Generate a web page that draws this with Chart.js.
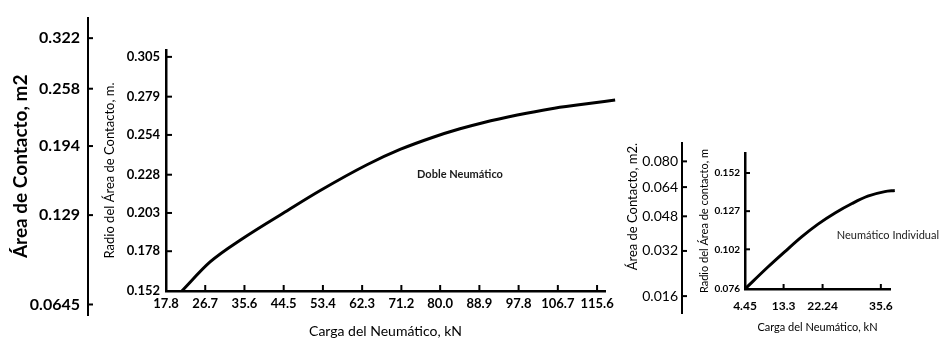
<!DOCTYPE html>
<html>
<head>
<meta charset="utf-8">
<script src="https://cdn.jsdelivr.net/npm/chart.js@4"></script>
<style>
  body { margin: 0; background: #fff; }
  #wrap { position: relative; width: 942px; height: 340px; overflow: hidden; }
  #wrap canvas { position: absolute; top: 0; }
</style>
</head>
<body>
<div id="wrap">
  <canvas id="dualArea" width="100" height="340" style="left:0px"></canvas>
  <canvas id="dual" width="540" height="340" style="left:90px"></canvas>
  <canvas id="singleArea" width="80" height="340" style="left:615px"></canvas>
  <canvas id="single" width="247" height="340" style="left:695px"></canvas>
</div>
<script>
// doble neumático
var loadDual = [21.4, 27.8, 35.3, 45.3, 52.7, 63.4, 70.9, 78.4, 84.5, 89.7, 97.5, 104.9, 112.4, 119.7];
var radiusDual = [0.152, 0.171, 0.1865, 0.2045, 0.2175, 0.2345, 0.2445, 0.2525, 0.258, 0.262, 0.267, 0.271, 0.274, 0.2768];
var loadTicksDual = [17.8, 26.7, 35.6, 44.5, 53.4, 62.3, 71.2, 80.0, 88.9, 97.8, 106.7, 115.6];
var radiusTicksDual = [0.152, 0.178, 0.203, 0.228, 0.254, 0.279, 0.305];
var areaTicksDual = [0.322, 0.258, 0.194, 0.129, 0.0645];

// neumático individual
var loadSingle = [4.45, 9.7, 13.6, 17.5, 21.2, 25.1, 29.0, 32.6, 36.5, 38.8];
var radiusSingle = [0.076, 0.0904, 0.1005, 0.1103, 0.1185, 0.1258, 0.132, 0.1368, 0.1398, 0.1405];
var loadTicksSingle = [4.45, 13.3, 22.24, 35.6];
var loadLabelsSingle = ['4.45', '13.3', '22.24', '35.6'];
var radiusTicksSingle = [0.076, 0.102, 0.127, 0.152];
var areaTicksSingle = [0.080, 0.064, 0.048, 0.032, 0.016];

Chart.defaults.font.family = 'Lato, "Open Sans", sans-serif';
Chart.defaults.color = '#000';

// tick marks drawn on the inside of the axis line
var innerTicks = {
    id: 'innerTicks',
    afterDraw: function(chart, args, opts) {
        var ctx = chart.ctx;
        ctx.save();
        ctx.strokeStyle = '#000';
        ctx.lineWidth = opts.width;
        Object.values(chart.scales).forEach(function(s) {
            if (!s.options.display) return;
            s.ticks.forEach(function(t) {
                var p = s.getPixelForValue(t.value);
                ctx.beginPath();
                if (s.isHorizontal()) { ctx.moveTo(p, s.top); ctx.lineTo(p, s.top - opts.len); }
                else { ctx.moveTo(s.right, p); ctx.lineTo(s.right + opts.len, p); }
                ctx.stroke();
            });
        });
        ctx.restore();
    }
};

var noteLabel = {
    id: 'noteLabel',
    afterDatasetsDraw: function(chart, args, o) {
        var ctx = chart.ctx;
        ctx.save();
        ctx.font = o.font;
        ctx.fillStyle = '#1a1a1a';
        ctx.textAlign = o.align;
        ctx.textBaseline = 'middle';
        ctx.fillText(o.text, chart.scales.x.getPixelForValue(o.x), chart.scales.y.getPixelForValue(o.y));
        ctx.restore();
    }
};

// outer axis: area = pi * r^2, placed on the radius scale
function areaAxis(id, areas, labelFn, rMin, rMax, pad, yWidth, tickFont, tickPad, title, titleFont, titlePad, titleAlign) {
    return new Chart(id, {
        type: 'line',
        data: { datasets: [] },
        options: {
            responsive: false, animation: false, devicePixelRatio: 1,
            layout: { padding: pad },
            plugins: { legend: { display: false }, tooltip: { enabled: false }, innerTicks: { len: 5, width: 2 } },
            scales: {
                x: { type: 'linear', display: false, min: 0, max: 1 },
                y: {
                    type: 'linear', bounds: 'data', min: rMin, max: rMax,
                    afterFit: function(s) { s.width = yWidth; },
                    afterBuildTicks: function(s) { s.ticks = areas.map(function(a) { return { value: Math.sqrt(a / Math.PI) }; }); },
                    ticks: { autoSkip: false, padding: tickPad, font: tickFont, callback: function(v, i) { return labelFn(areas[i]); } },
                    grid: { drawOnChartArea: false, drawTicks: false },
                    border: { color: '#000', width: 2 },
                    title: { display: true, text: title, font: titleFont, padding: { top: titlePad, bottom: 0 }, align: titleAlign }
                }
            }
        },
        plugins: [innerTicks]
    });
}

areaAxis('dualArea', areaTicksDual, function(a) { return String(a); }, 0.1363, 0.3338,
    { top: 13, bottom: 25, left: 0, right: 0 }, 88, { size: 16, weight: 'bold' }, 8,
    'Área de Contacto, m2', { size: 19, weight: 'bold' }, 9, 'center');

areaAxis('singleArea', areaTicksSingle, function(a) { return a.toFixed(3); }, 0.0603, 0.1716,
    { top: 143, bottom: 27, left: 0, right: 0 }, 67, { size: 14 }, 4,
    'Área de Contacto, m2.', { size: 13 }, 10, 'end');

new Chart('dual', {
    type: 'line',
    data: {
        datasets: [{
            data: loadDual.map(function(x, i) { return { x: x, y: radiusDual[i] }; }),
            borderColor: '#000', borderWidth: 3, pointRadius: 0, fill: false,
            cubicInterpolationMode: 'monotone', clip: false
        }]
    },
    options: {
        responsive: false, animation: false, devicePixelRatio: 1,
        layout: { padding: { top: 50, right: 25, bottom: 0, left: 0 } },
        plugins: {
            legend: { display: false }, tooltip: { enabled: false },
            innerTicks: { len: 6, width: 2 },
            noteLabel: { text: 'Doble Neumático', x: 84.5, y: 0.228, font: 'bold 11px Lato', align: 'center' }
        },
        scales: {
            x: {
                type: 'linear', bounds: 'data', min: 17.8, max: 117.4,
                afterFit: function(s) { s.height = 49; },
                afterBuildTicks: function(s) { s.ticks = loadTicksDual.map(function(v) { return { value: v }; }); },
                ticks: { autoSkip: false, maxRotation: 0, padding: 5, font: { size: 13, weight: 'bold' }, callback: function(v) { return v.toFixed(1); } },
                grid: { drawOnChartArea: false, drawTicks: false },
                border: { color: '#000', width: 2.5 },
                title: { display: true, text: 'Carga del Neumático, kN', font: { size: 14 }, padding: { top: 0, bottom: 0 } }
            },
            y: {
                type: 'linear', bounds: 'data', min: 0.152, max: 0.3095,
                afterFit: function(s) { s.width = 76; },
                afterBuildTicks: function(s) { s.ticks = radiusTicksDual.map(function(v) { return { value: v }; }); },
                ticks: { autoSkip: false, padding: 6, font: { size: 13, weight: 'bold' }, callback: function(v) { return v.toFixed(3); } },
                grid: { drawOnChartArea: false, drawTicks: false },
                border: { color: '#000', width: 2.5 },
                title: { display: true, text: 'Radio del Área de Contacto, m.', font: { size: 13 }, padding: { top: 12, bottom: 0 } }
            }
        }
    },
    plugins: [innerTicks, noteLabel]
});

new Chart('single', {
    type: 'line',
    data: {
        datasets: [{
            data: loadSingle.map(function(x, i) { return { x: x, y: radiusSingle[i] }; }),
            borderColor: '#000', borderWidth: 3, pointRadius: 0, fill: false,
            cubicInterpolationMode: 'monotone', clip: false
        }]
    },
    options: {
        responsive: false, animation: false, devicePixelRatio: 1,
        layout: { padding: { top: 153, right: 52, bottom: 0, left: 0 } },
        plugins: {
            legend: { display: false }, tooltip: { enabled: false },
            innerTicks: { len: 5, width: 2 },
            noteLabel: { text: 'Neumático Individual', x: 25.5, y: 0.1114, font: '11px Lato', align: 'left' }
        },
        scales: {
            x: {
                type: 'linear', bounds: 'data', min: 4.45, max: 37.7,
                afterFit: function(s) { s.height = 51; },
                afterBuildTicks: function(s) { s.ticks = loadTicksSingle.map(function(v) { return { value: v }; }); },
                ticks: { autoSkip: false, maxRotation: 0, padding: 10, font: { size: 12, weight: 'bold' }, callback: function(v, i) { return loadLabelsSingle[i]; } },
                grid: { drawOnChartArea: false, drawTicks: false },
                border: { color: '#000', width: 2.5 },
                title: { display: true, text: 'Carga del Neumático, kN', font: { size: 11 }, padding: { top: 0, bottom: 6 } }
            },
            y: {
                type: 'linear', bounds: 'data', min: 0.076, max: 0.1651,
                afterFit: function(s) { s.width = 50; },
                afterBuildTicks: function(s) { s.ticks = radiusTicksSingle.map(function(v) { return { value: v }; }); },
                ticks: { autoSkip: false, padding: 5, font: { size: 10, weight: 'bold' }, callback: function(v) { return v.toFixed(3); } },
                grid: { drawOnChartArea: false, drawTicks: false },
                border: { color: '#000', width: 2.5 },
                title: { display: true, text: 'Radio del Área de contacto, m', font: { size: 11 }, padding: { top: 3, bottom: 0 } }
            }
        }
    },
    plugins: [innerTicks, noteLabel]
});
</script>
</body>
</html>
